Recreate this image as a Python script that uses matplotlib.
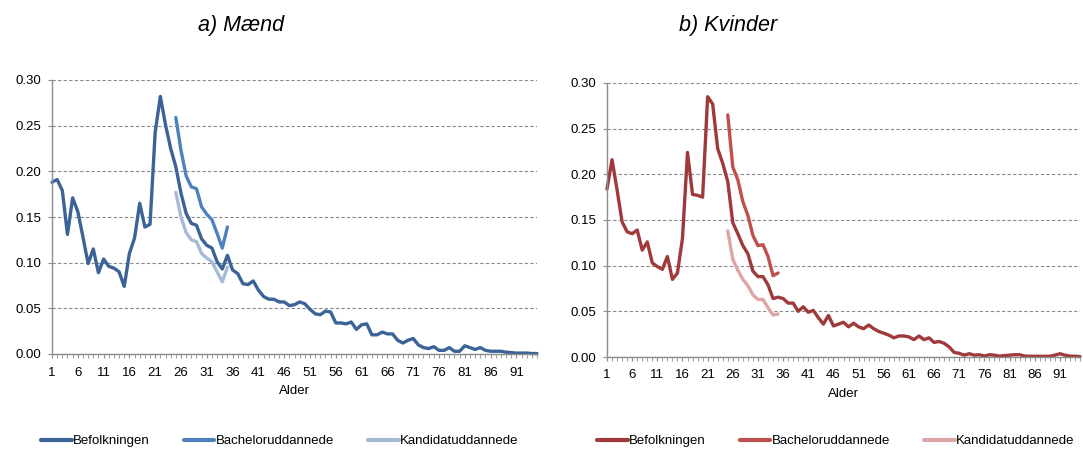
import matplotlib
matplotlib.use("Agg")
import matplotlib.pyplot as plt
from matplotlib.ticker import MultipleLocator, FixedLocator

plt.rcParams["font.family"] = ["Liberation Sans", "DejaVu Sans"]

ages = list(range(1, 96))
edu_ages = list(range(25, 36))
age_ticks = list(range(1, 92, 5))
y_ticks = [0.00, 0.05, 0.10, 0.15, 0.20, 0.25, 0.30]

# a) Mænd
men_pop = [
    0.188, 0.191, 0.179, 0.131, 0.171, 0.156, 0.128, 0.099, 0.115, 0.089,
    0.104, 0.096, 0.094, 0.090, 0.074, 0.110, 0.127, 0.165, 0.139, 0.142,
    0.243, 0.282, 0.251, 0.225, 0.205, 0.176, 0.154, 0.143, 0.141, 0.126,
    0.119, 0.116, 0.101, 0.093, 0.108, 0.092, 0.088, 0.077, 0.076, 0.080,
    0.070, 0.063, 0.060, 0.060, 0.057, 0.057, 0.053, 0.054, 0.057, 0.055,
    0.049, 0.044, 0.043, 0.047, 0.046, 0.034, 0.034, 0.033, 0.035, 0.027,
    0.032, 0.033, 0.021, 0.021, 0.024, 0.022, 0.022, 0.015, 0.012, 0.015,
    0.017, 0.010, 0.007, 0.006, 0.008, 0.004, 0.004, 0.007, 0.003, 0.003,
    0.009, 0.007, 0.005, 0.007, 0.004, 0.003, 0.003, 0.003, 0.002, 0.0015,
    0.001, 0.001, 0.001, 0.0005, 0.0005,
]
men_bach = [0.259, 0.223, 0.195, 0.183, 0.181, 0.161, 0.153, 0.147, 0.132, 0.116, 0.139]
men_cand = [0.177, 0.150, 0.133, 0.125, 0.123, 0.110, 0.105, 0.101, 0.090, 0.079, 0.095]

# b) Kvinder
women_pop = [
    0.184, 0.216, 0.183, 0.148, 0.137, 0.135, 0.139, 0.117, 0.126, 0.103,
    0.099, 0.096, 0.110, 0.085, 0.092, 0.130, 0.224, 0.178, 0.177, 0.175,
    0.285, 0.277, 0.228, 0.212, 0.192, 0.147, 0.135, 0.122, 0.113, 0.094,
    0.088, 0.088, 0.079, 0.064, 0.0655, 0.064, 0.059, 0.059, 0.050, 0.055,
    0.049, 0.051, 0.043, 0.036, 0.0455, 0.034, 0.036, 0.038, 0.033, 0.037,
    0.033, 0.031, 0.035, 0.031, 0.028, 0.026, 0.024, 0.021, 0.023, 0.023,
    0.022, 0.019, 0.023, 0.019, 0.021, 0.016, 0.017, 0.015, 0.011, 0.005,
    0.004, 0.002, 0.0036, 0.002, 0.0025, 0.001, 0.0025, 0.002, 0.001, 0.0015,
    0.002, 0.0025, 0.0025, 0.001, 0.0008, 0.0008, 0.0008, 0.0008, 0.0008, 0.002,
    0.0036, 0.002, 0.001, 0.0008, 0.0005,
]
women_bach = [0.265, 0.208, 0.194, 0.170, 0.155, 0.133, 0.122, 0.123, 0.110, 0.089, 0.092]
women_cand = [0.138, 0.107, 0.095, 0.085, 0.078, 0.068, 0.063, 0.063, 0.054, 0.046, 0.047]

labels = ["Befolkningen", "Bacheloruddannede", "Kandidatuddannede"]
men_colors = ["#3B6397", "#4F81BD", "#A7B9D9"]
women_colors = ["#A0393B", "#C0504D", "#DDA6A5"]

W, H = 1083, 449
fig = plt.figure(figsize=(W / 100, H / 100), dpi=100)


def px_axes(x0, x1, ytop, ybot):
    return fig.add_axes([x0 / W, (H - ybot) / H, (x1 - x0) / W, (ybot - ytop) / H])


def style(ax):
    ax.set_xlim(1, 95)
    ax.set_ylim(0, 0.30)
    ax.set_yticks(y_ticks)
    ax.set_yticklabels([f"{v:.2f}" for v in y_ticks])
    ax.xaxis.set_major_locator(FixedLocator(age_ticks))
    ax.xaxis.set_minor_locator(MultipleLocator(1))
    ax.set_xticklabels([str(a) for a in age_ticks])
    for s in ["top", "right"]:
        ax.spines[s].set_visible(False)
    for s in ["left", "bottom"]:
        ax.spines[s].set_color("#8C8C8C")
        ax.spines[s].set_linewidth(1.0)
    ax.tick_params(axis="both", which="both", direction="out", length=3,
                   color="#8C8C8C", labelsize=9.5, labelcolor="black")
    ax.tick_params(axis="x", which="both", pad=6)
    ax.tick_params(axis="y", which="both", pad=5)
    ax.grid(axis="y", linestyle=(0, (3, 2)), color="#8A8A8A", linewidth=0.8)
    ax.set_axisbelow(True)
    ax.set_xlabel("Alder", fontsize=9.5, labelpad=5)


panels = [
    (px_axes(52, 537, 80, 354), men_pop, men_bach, men_cand, men_colors),
    (px_axes(607, 1080, 83, 357), women_pop, women_bach, women_cand, women_colors),
]

for ax, pop, bach, cand, cols in panels:
    style(ax)
    for x, y, c, lab in [(ages, pop, cols[0], labels[0]),
                         (edu_ages, bach, cols[1], labels[1]),
                         (edu_ages, cand, cols[2], labels[2])]:
        ax.plot(x, y, color=c, lw=2.4, label=lab, solid_joinstyle="round",
                solid_capstyle="round", clip_on=False)

for ax, cx in [(panels[0][0], 280), (panels[1][0], 836)]:
    leg = ax.legend(loc="center", bbox_to_anchor=(cx / W, (H - 441) / H),
                    bbox_transform=fig.transFigure, ncol=3, frameon=False,
                    fontsize=9.5, handlelength=2.3, handletextpad=0.1,
                    columnspacing=2.6)
    for h in leg.get_lines():
        h.set_linewidth(3.0)

fig.text(241 / W, (H - 25) / H, "a) Mænd", ha="center", va="center",
         fontsize=15.5, style="italic")
fig.text(728 / W, (H - 25) / H, "b) Kvinder", ha="center", va="center",
         fontsize=15.5, style="italic")

fig.savefig("out.png", dpi=100)
